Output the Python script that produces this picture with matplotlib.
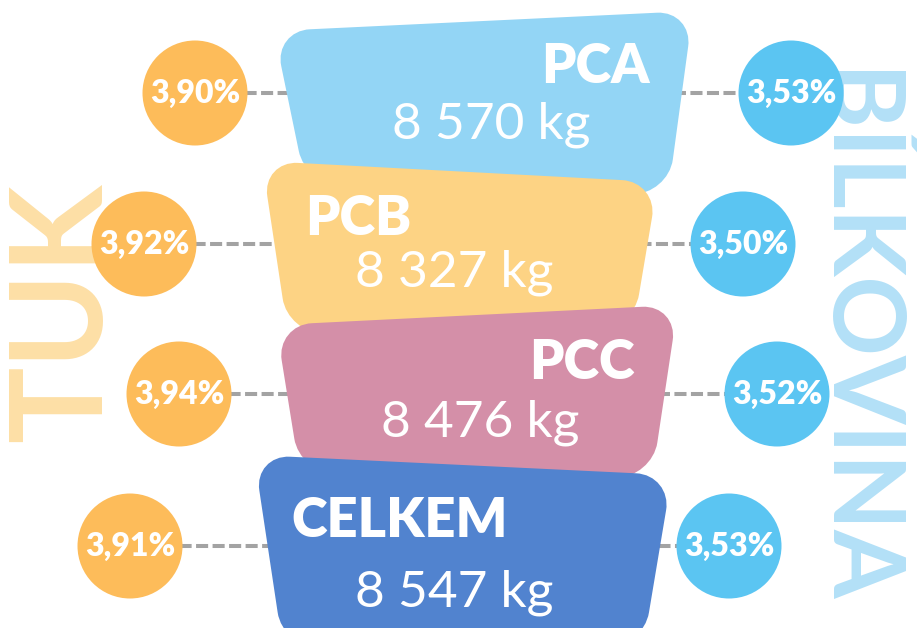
import numpy as np
import matplotlib
matplotlib.use("Agg")
import matplotlib.pyplot as plt
from matplotlib.path import Path
from matplotlib.patches import PathPatch, Circle

# data
groups = ["PCA", "PCB", "PCC", "CELKEM"]
weights_kg = [8570, 8327, 8476, 8547]
fat_pct = [3.90, 3.92, 3.94, 3.91]
protein_pct = [3.53, 3.50, 3.52, 3.53]

# layout (pixel coords, y down)
shape_colors = ["#93D5F5", "#FDD384", "#D48FA8", "#5183CF"]
shape_corners = [
    [(274, 31), (693, 11), (668, 195), (306, 186)],
    [(262, 161), (658, 182), (633, 330), (288, 334)],
    [(276, 325), (678, 305), (652, 478), (300, 474)],
    [(254, 455), (672, 475), (643, 648), (283, 648)],
]
row_y = [93, 244, 394, 546]
fat_x = [195, 144, 179, 130]
prot_x = [791, 743, 777, 729]
name_pos = [(650, 83, "right"), (305, 235, "left"), (635, 379, "right"), (291, 537, "left")]
kg_pos = [(491, 138), (454, 287), (480, 437), (454, 606)]

plt.rcParams["font.family"] = ["Lato", "DejaVu Sans"]


def rounded_path(pts, r):
    pts = [np.array(p, float) for p in pts]
    n = len(pts)
    verts, codes = [], []
    for i in range(n):
        p0, p1, p2 = pts[i - 1], pts[i], pts[(i + 1) % n]
        v1 = (p0 - p1) / np.linalg.norm(p0 - p1)
        v2 = (p2 - p1) / np.linalg.norm(p2 - p1)
        a = p1 + v1 * r
        b = p1 + v2 * r
        verts.append(a)
        codes.append(Path.MOVETO if i == 0 else Path.LINETO)
        verts += [a + (p1 - a) * 0.55, b + (p1 - b) * 0.55, b]
        codes += [Path.CURVE4] * 3
    verts.append(verts[0])
    codes.append(Path.CLOSEPOLY)
    return Path(verts, codes)


fig = plt.figure(figsize=(9.17, 6.28), dpi=100)
ax = fig.add_axes([0, 0, 1, 1])
ax.set_xlim(0, 917)
ax.set_ylim(628, 0)
ax.axis("off")

# big side labels
ax.text(65, 313, "TUK", rotation=90, color="#FDDFA6", fontsize=92,
        fontweight="bold", ha="center", va="center", rotation_mode="anchor", zorder=1)
ax.text(855, 338, "BÍLKOVINA", rotation=-90, color="#B3E0F7", fontsize=71,
        fontweight="bold", ha="center", va="center", rotation_mode="anchor", zorder=1)

# dashed connectors
for i in range(len(groups)):
    ax.plot([fat_x[i], prot_x[i]], [row_y[i], row_y[i]], color="#A3A3A3",
            lw=2.9, linestyle=(0, (3, 1.1)), zorder=2)

# cup shapes
for i, g in enumerate(groups):
    ax.add_patch(PathPatch(rounded_path(shape_corners[i], 36),
                           facecolor=shape_colors[i], edgecolor="none", zorder=3 + i))
    x, y, ha = name_pos[i]
    ax.text(x, y, g, color="white", fontsize=39, fontweight="heavy",
            ha=ha, va="baseline", zorder=10)
    kx, ky = kg_pos[i]
    kg = f"{weights_kg[i]:,}".replace(",", " ") + " kg"
    ax.text(kx, ky, kg, color="white", fontsize=37, fontweight="normal",
            ha="center", va="baseline", zorder=10)

# percentage circles
for i in range(len(groups)):
    ax.add_patch(Circle((fat_x[i], row_y[i]), 52.5, facecolor="#FDBC5A",
                        edgecolor="none", zorder=8))
    ax.add_patch(Circle((prot_x[i], row_y[i]), 52.5, facecolor="#5BC5F2",
                        edgecolor="none", zorder=8))
    ax.text(fat_x[i], row_y[i] + 10, f"{fat_pct[i]:.2f}".replace(".", ",") + "%",
            color="white", fontsize=23, fontweight="heavy", ha="center",
            va="baseline", zorder=11)
    ax.text(prot_x[i], row_y[i] + 10, f"{protein_pct[i]:.2f}".replace(".", ",") + "%",
            color="white", fontsize=23, fontweight="heavy", ha="center",
            va="baseline", zorder=11)

fig.savefig("out.png", dpi=100)
